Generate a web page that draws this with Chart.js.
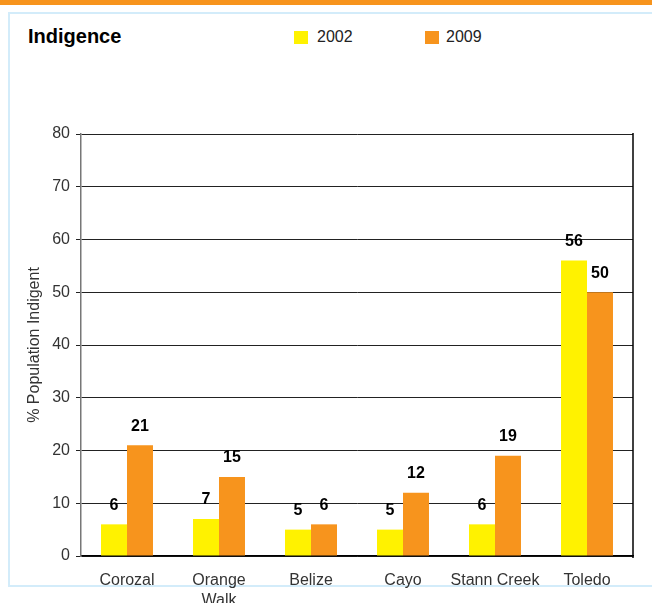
<!DOCTYPE html>
<html>
<head>
<meta charset="utf-8">
<script src="https://cdn.jsdelivr.net/npm/chart.js@4.4.1/dist/chart.umd.min.js"></script>
<style>
  html, body { margin: 0; padding: 0; background: #fff; }
  body { width: 652px; height: 603px; position: relative; overflow: hidden; font-family: "Liberation Sans", Arial, sans-serif; }
  #topbar { position: absolute; left: 0; top: 0; width: 652px; height: 5px; background: #f7941d; }
  #frame { position: absolute; left: 8px; top: 12px; width: 660px; height: 571px; border: 2px solid #d3ecfa; box-sizing: content-box; }
  #title { position: absolute; left: 28px; top: 26px; font-size: 20px; line-height: 20px; font-weight: bold; color: #000; }
  .leg { position: absolute; top: 29px; font-size: 16px; line-height: 16px; color: #222; }
  .sw { position: absolute; top: 31px; width: 14px; height: 13px; }
  #chart { position: absolute; left: 0; top: 0; }
</style>
</head>
<body>
<div id="topbar"></div>
<div id="frame"></div>
<div id="title">Indigence</div>
<div class="sw" id="sw0" style="left:294px"></div>
<div class="leg" id="lg0" style="left:317px"></div>
<div class="sw" id="sw1" style="left:425px"></div>
<div class="leg" id="lg1" style="left:446px"></div>
<canvas id="chart" width="652" height="603"></canvas>
<script>
// Districts and indigence rates (% of population)
const districts = [['Corozal'], ['Orange', 'Walk'], 'Belize', 'Cayo', 'Stann Creek', 'Toledo'];
const seriesNames = ['2002', '2009'];
const indigence2002 = [6, 7, 5, 5, 6, 56];
const indigence2009 = [21, 15, 6, 12, 19, 50];
const yTicks = [0, 10, 20, 30, 40, 50, 60, 70, 80];

const colors = ['#fff200', '#f7941d'];

// HTML legend
seriesNames.forEach((name, i) => {
  document.getElementById('sw' + i).style.background = colors[i];
  document.getElementById('lg' + i).textContent = name;
});

// Value labels above each bar
const valueLabels = {
  id: 'valueLabels',
  afterDatasetsDraw(chart) {
    const ctx = chart.ctx;
    ctx.save();
    ctx.font = 'bold 16px "Liberation Sans", Arial, sans-serif';
    ctx.fillStyle = '#000';
    ctx.textAlign = 'center';
    ctx.textBaseline = 'middle';
    chart.data.datasets.forEach((ds, di) => {
      chart.getDatasetMeta(di).data.forEach((bar, i) => {
        ctx.fillText(String(ds.data[i]), bar.x, bar.y - 19);
      });
    });
    ctx.restore();
  }
};

// Right-hand border of the plot area
const rightEdge = {
  id: 'rightEdge',
  afterDraw(chart) {
    const { ctx, chartArea } = chart;
    ctx.save();
    ctx.strokeStyle = '#000';
    ctx.lineWidth = 1.5;
    ctx.beginPath();
    ctx.moveTo(chartArea.right, chartArea.top - 1);
    ctx.lineTo(chartArea.right, chartArea.bottom + 2);
    ctx.stroke();
    ctx.restore();
  }
};

new Chart(document.getElementById('chart'), {
  type: 'bar',
  data: {
    labels: districts,
    datasets: [
      { label: seriesNames[0], data: indigence2002, backgroundColor: colors[0], borderWidth: 0 },
      { label: seriesNames[1], data: indigence2009, backgroundColor: colors[1], borderWidth: 0 }
    ]
  },
  options: {
    responsive: false,
    animation: false,
    devicePixelRatio: 1,
    layout: { padding: { top: 134, right: 19, left: 0, bottom: 0 } },
    plugins: { legend: { display: false }, tooltip: { enabled: false } },
    datasets: { bar: { categoryPercentage: 0.565, barPercentage: 1 } },
    scales: {
      x: {
        grid: { display: false },
        border: { display: true, color: '#000', width: 1.5 },
        ticks: {
          color: '#333',
          font: { size: 16, family: '"Liberation Sans", Arial, sans-serif', lineHeight: 1.25 },
          padding: 7,
          maxRotation: 0,
          autoSkip: false
        },
        afterFit(scale) { scale.height = 47; }
      },
      y: {
        min: 0,
        max: 80,
        afterBuildTicks(scale) { scale.ticks = yTicks.map(v => ({ value: v })); },
        grid: { color: '#222', lineWidth: 1, tickLength: 5, tickColor: '#222' },
        border: { display: true, color: '#777', width: 1.5 },
        ticks: {
          color: '#333',
          padding: 6,
          font: { size: 16, family: '"Liberation Sans", Arial, sans-serif' }
        },
        title: {
          display: true,
          text: '% Population Indigent',
          color: '#333',
          font: { size: 16, family: '"Liberation Sans", Arial, sans-serif' },
          padding: { top: 25, bottom: 0 }
        },
        afterFit(scale) { scale.width = 81; }
      }
    }
  },
  plugins: [valueLabels, rightEdge]
});
</script>
</body>
</html>
